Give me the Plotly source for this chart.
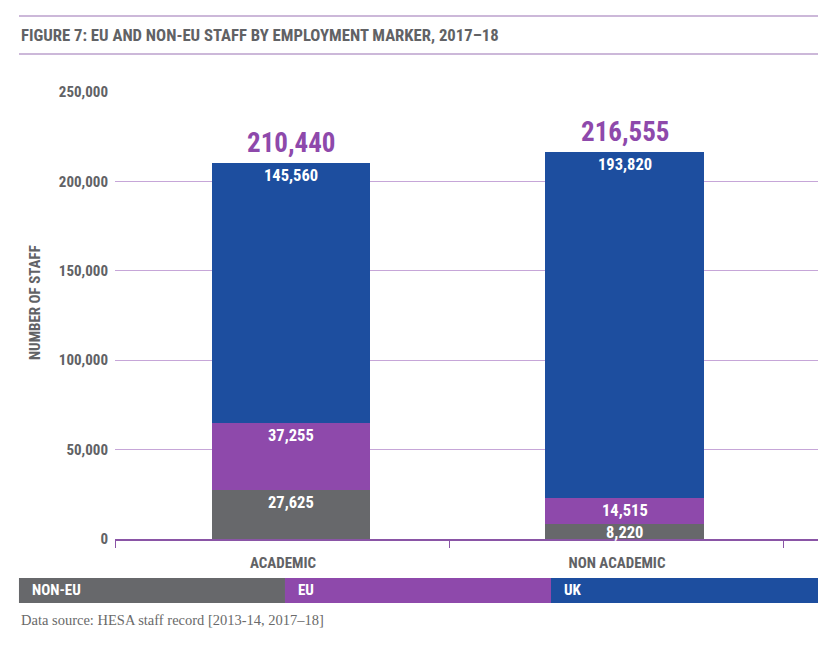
import plotly.graph_objects as go

categories = ["ACADEMIC", "NON ACADEMIC"]
non_eu = [27625, 8220]
eu = [37255, 14515]
uk = [145560, 193820]
totals = [210440, 216555]
y_ticks = [0, 50000, 100000, 150000, 200000, 250000]

GRAY = "#67686b"
PURPLE = "#8e49ab"
BLUE = "#1d4e9f"
TXT = "#616265"
FONT = "Roboto Condensed, Open Sans Condensed, sans-serif"

xpos = list(range(len(categories)))
series = [("NON-EU", non_eu, GRAY), ("EU", eu, PURPLE), ("UK", uk, BLUE)]

fig = go.Figure()
for name, vals, col in series:
    fig.add_trace(go.Bar(
        x=xpos, y=vals, name=name, marker=dict(color=col, line=dict(width=0)),
        width=0.476, hoverinfo="skip", showlegend=False,
    ))

# segment value labels
MIN_SEG = 10000
for i in xpos:
    base = 0
    for name, vals, col in series:
        v = vals[i]
        top = base + v
        if v >= MIN_SEG:
            fig.add_annotation(x=i, y=top, xref="x", yref="y", text=f"{v:,}",
                               showarrow=False, yanchor="top", yshift=-2, borderpad=0,
                               font=dict(color="white", size=16.5, family=FONT, weight="bold"))
        else:
            fig.add_annotation(x=i, y=base, xref="x", yref="y", text=f"{v:,}",
                               showarrow=False, yanchor="bottom", yshift=-4, borderpad=0,
                               font=dict(color="white", size=16.5, family=FONT, weight="bold"))
        base = top

for i, t in enumerate(totals):
    fig.add_annotation(x=xpos[i], y=t, xref="x", yref="y", text=f"{t:,}",
                       showarrow=False, yanchor="bottom", yshift=2,
                       font=dict(color=PURPLE, size=27, family=FONT, weight="bold"))

fig.update_layout(
    barmode="stack", width=836, height=646,
    margin=dict(l=107, r=26, t=84, b=115),
    paper_bgcolor="white", plot_bgcolor="white",
    bargap=0,
)
fig.update_xaxes(
    range=[-0.527, 1.578], tickvals=xpos, ticktext=categories,
    ticks="", showgrid=False, zeroline=False,
    showline=True, linecolor="#8a55a6", linewidth=1.5,
    tickfont=dict(color=TXT, size=15, family=FONT, weight="bold"),
    ticklabelstandoff=9, ticklabelshift=-8,
    minor=dict(tickvals=[-0.527, 0.476, 1.476], ticks="outside", ticklen=7,
               tickcolor="#8a55a6", tickwidth=1, showgrid=False),
)
fig.update_yaxes(
    range=[0, 250000], tickvals=y_ticks, ticktext=[f"{v:,}" for v in y_ticks],
    showgrid=True, gridcolor="#c6a6d8", gridwidth=1, zeroline=False,
    showline=False, ticks="", ticklabelstandoff=6,
    tickfont=dict(color=TXT, size=15, family=FONT, weight="bold"),
)

# y-axis title
fig.add_annotation(text="NUMBER OF STAFF", xref="paper", yref="paper",
                   x=-0.1138, y=0.53, textangle=-90, showarrow=False,
                   xanchor="center", yanchor="middle",
                   font=dict(color=TXT, size=15, family=FONT, weight="bold"))

# title and rules
fig.add_shape(type="line", xref="paper", yref="paper", x0=-0.1366, x1=1.0,
              y0=1.170, y1=1.170, line=dict(color="#9a72b3", width=1.2))
fig.add_shape(type="line", xref="paper", yref="paper", x0=-0.1366, x1=1.0,
              y0=1.085, y1=1.085, line=dict(color="#9a72b3", width=1.2))
fig.add_annotation(text="FIGURE 7: EU AND NON-EU STAFF BY EMPLOYMENT MARKER, 2017–18",
                   xref="paper", yref="paper", x=-0.1366, y=1.1275,
                   xanchor="left", yanchor="middle", showarrow=False,
                   font=dict(color=TXT, size=16.7, family=FONT, weight="bold"))

# legend strip
legend_items = [("NON-EU", GRAY), ("EU", PURPLE), ("UK", BLUE)]
edges = [-0.1366, 0.2418, 0.6202, 1.0]
for i, (lab, col) in enumerate(legend_items):
    fig.add_shape(type="rect", xref="paper", yref="paper", x0=edges[i], x1=edges[i + 1],
                  y0=-0.1432, y1=-0.0872, fillcolor=col, line=dict(width=0))
    fig.add_annotation(text=lab, xref="paper", yref="paper", x=edges[i] + 0.016,
                       y=-0.1152, xanchor="left", yanchor="middle", showarrow=False,
                       font=dict(color="white", size=15, family=FONT, weight="bold"))

fig.add_annotation(text="Data source: HESA staff record [2013-14, 2017–18]",
                   xref="paper", yref="paper", x=-0.1366, y=-0.1812,
                   xanchor="left", yanchor="middle", showarrow=False,
                   font=dict(color="#6a6a6a", size=14.5, family="Liberation Serif, DejaVu Serif, serif"))

fig.write_html("out.html")
